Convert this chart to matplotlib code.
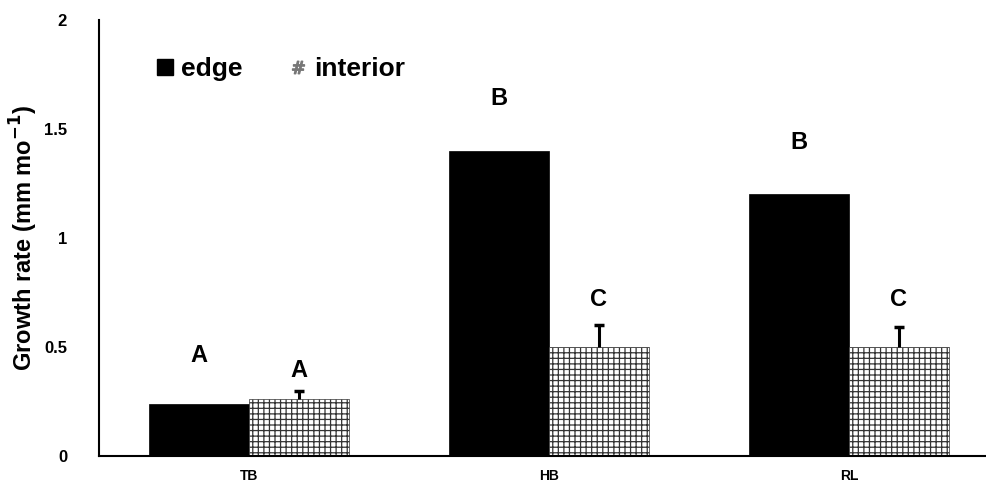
import numpy as np
import matplotlib.pyplot as plt
from matplotlib.lines import Line2D

plt.rcParams['font.family'] = ['Liberation Sans', 'DejaVu Sans']
plt.rcParams['hatch.linewidth'] = 0.9
plt.rcParams['hatch.color'] = '#333333'

### DATA ###
sites = ['TB', 'HB', 'RL']
edge = [0.24, 1.40, 1.20]
interior = [0.26, 0.50, 0.50]
interior_err = [0.04, 0.10, 0.09]
edge_letters = ['A', 'B', 'B']
interior_letters = ['A', 'C', 'C']
edge_letter_y = [0.46, 1.64, 1.44]
interior_letter_y = [0.39, 0.72, 0.72]

### PLOT ###
fig = plt.figure(figsize=(9.87, 4.94), dpi=100)
ax = fig.add_axes([0.1003, 0.0769, 0.8997, 0.8826])

x = np.arange(len(sites))
w = 1 / 3

ax.bar(x - w / 2, edge, w, color='black', edgecolor='black', linewidth=0.5)
ax.bar(x + w / 2, interior, w, color='white', edgecolor='#333333',
       hatch='+++', linewidth=0.5)

# upper error bars only
tops = np.array(interior) + np.array(interior_err)
ax.vlines(x + w / 2, interior, tops, color='black', linewidth=2.2)
ax.scatter(x + w / 2, tops, marker='_', s=60, color='black', linewidths=2.5)

for i in range(len(x)):
    ax.text(x[i] - w / 2, edge_letter_y[i], edge_letters[i], ha='center',
            va='center', fontsize=17, fontweight='bold')
    ax.text(x[i] + w / 2, interior_letter_y[i], interior_letters[i],
            ha='center', va='center', fontsize=17, fontweight='bold')

ax.set_xlim(-0.5, 2.46)
ax.set_ylim(0, 2)
ax.set_yticks([0, 0.5, 1, 1.5, 2])
ax.set_yticklabels(['0', '0.5', '1', '1.5', '2'], fontsize=12, fontweight='bold')
ax.set_xticks(x)
ax.set_xticklabels(sites, fontsize=10, fontweight='bold')
ax.tick_params(axis='y', length=0, pad=23)
ax.tick_params(axis='x', length=0, pad=9)
ax.set_ylabel('Growth rate (mm mo$^{\\mathbf{-1}}$)', fontsize=17,
              fontweight='bold', labelpad=3)

ax.spines['top'].set_visible(False)
ax.spines['right'].set_visible(False)
ax.spines['left'].set_linewidth(1.5)
ax.spines['bottom'].set_linewidth(1.5)

handles = [Line2D([], [], marker='s', linestyle='none', color='black',
                  markersize=11, label='edge'),
           Line2D([], [], marker='$\\#$', linestyle='none', color='#777777',
                  markersize=9, label='interior')]
ax.legend(handles=handles, loc='upper left', bbox_to_anchor=(0.039, 0.97),
          ncol=2, frameon=False, handlelength=0.6, handletextpad=0.3,
          columnspacing=1.8, prop={'size': 19, 'weight': 'bold'})

fig.savefig('out.png', dpi=100)
